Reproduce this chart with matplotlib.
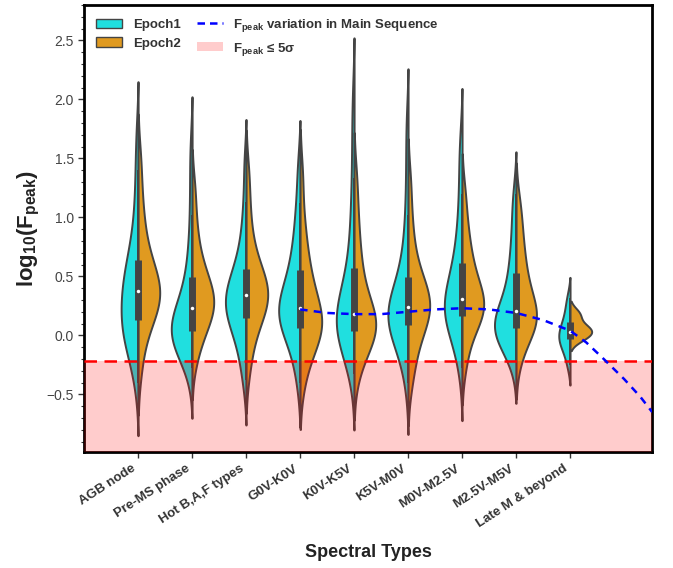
import matplotlib
matplotlib.use("Agg")
import matplotlib.pyplot as plt
from matplotlib.patches import Patch
from matplotlib.lines import Line2D
import numpy as np

categories = ["AGB node", "Pre-MS phase", "Hot B,A,F types", "G0V-K0V", "K0V-K5V",
              "K5V-M0V", "M0V-M2.5V", "M2.5V-M5V", "Late M & beyond"]

# log10(Fpeak) samples per spectral type
epoch1 = [
    [-0.4, -0.22, -0.12, -0.06, -0.02, 0.02, 0.05, 0.09, 0.13, 0.18, 0.23, 0.28, 0.33, 0.38, 0.42, 0.46, 0.51, 0.56, 0.62, 0.7, 0.8, 0.95, 1.15, 1.4, 1.7],
    [-0.28, -0.16, -0.1, -0.07, -0.05, -0.03, -0.01, 0.01, 0.03, 0.05, 0.07, 0.09, 0.12, 0.15, 0.19, 0.24, 0.3, 0.38, 0.48, 0.6, 0.76, 1.0, 1.3, 1.6],
    [-0.38, -0.22, -0.1, 0.0, 0.06, 0.11, 0.15, 0.19, 0.22, 0.25, 0.28, 0.31, 0.34, 0.37, 0.41, 0.45, 0.5, 0.56, 0.64, 0.75, 0.9, 1.12, 1.45],
    [-0.38, -0.18, -0.06, 0.02, 0.07, 0.11, 0.14, 0.17, 0.2, 0.23, 0.26, 0.3, 0.35, 0.41, 0.48, 0.56, 0.66, 0.78, 0.93, 1.12, 1.42],
    [-0.28, -0.15, -0.08, -0.03, 0.01, 0.04, 0.07, 0.09, 0.11, 0.13, 0.15, 0.18, 0.21, 0.25, 0.3, 0.37, 0.46, 0.57, 0.7, 0.86, 1.06, 1.32, 1.65, 2.0],
    [-0.38, -0.2, -0.09, -0.02, 0.03, 0.07, 0.1, 0.12, 0.14, 0.16, 0.18, 0.2, 0.22, 0.25, 0.29, 0.34, 0.4, 0.48, 0.58, 0.7, 0.88, 1.12, 1.45, 1.8],
    [-0.28, -0.1, 0.0, 0.07, 0.12, 0.16, 0.19, 0.21, 0.23, 0.26, 0.29, 0.33, 0.38, 0.44, 0.51, 0.59, 0.68, 0.8, 0.95, 1.15, 1.4, 1.65],
    [-0.22, -0.1, -0.05, -0.01, 0.02, 0.04, 0.06, 0.08, 0.1, 0.13, 0.17, 0.22, 0.28, 0.35, 0.44, 0.54, 0.66, 0.81, 1.0, 1.2],
    [-0.25, -0.14, -0.09, -0.05, -0.02, 0.01, 0.04, 0.08, 0.14, 0.22, 0.32],
]
epoch2 = [
    [-0.3, -0.1, 0.02, 0.1, 0.15, 0.2, 0.24, 0.27, 0.3, 0.33, 0.36, 0.39, 0.42, 0.45, 0.49, 0.53, 0.58, 0.64, 0.7, 0.8, 0.92, 1.05, 1.25, 1.5],
    [-0.22, -0.08, 0.0, 0.06, 0.11, 0.15, 0.19, 0.22, 0.25, 0.28, 0.31, 0.34, 0.37, 0.41, 0.45, 0.5, 0.56, 0.63, 0.72, 0.85, 1.02, 1.25],
    [-0.3, -0.12, 0.0, 0.08, 0.14, 0.19, 0.23, 0.27, 0.3, 0.33, 0.36, 0.39, 0.42, 0.45, 0.49, 0.54, 0.6, 0.68, 0.78, 0.93, 1.13, 1.38],
    [-0.4, -0.22, -0.12, -0.05, 0.0, 0.03, 0.06, 0.09, 0.12, 0.16, 0.2, 0.25, 0.31, 0.38, 0.46, 0.55, 0.66, 0.8, 1.0, 1.35],
    [-0.33, -0.18, -0.1, -0.05, -0.01, 0.02, 0.05, 0.08, 0.1, 0.12, 0.15, 0.19, 0.24, 0.3, 0.38, 0.47, 0.58, 0.7, 0.86, 1.06, 1.33],
    [-0.4, -0.25, -0.13, -0.04, 0.03, 0.08, 0.13, 0.17, 0.2, 0.23, 0.26, 0.29, 0.32, 0.35, 0.39, 0.44, 0.5, 0.58, 0.68, 0.83, 1.02, 1.3],
    [-0.25, -0.07, 0.04, 0.11, 0.16, 0.19, 0.22, 0.25, 0.28, 0.31, 0.35, 0.4, 0.46, 0.53, 0.61, 0.7, 0.82, 0.97, 1.2],
    [-0.2, -0.05, 0.03, 0.07, 0.1, 0.13, 0.16, 0.19, 0.23, 0.28, 0.34, 0.41, 0.49, 0.58, 0.68, 0.8, 0.95, 1.12],
    [-0.02, 0.03, 0.07, 0.18],
]

# main sequence trend (x in category units)
ms_x = [3.0, 3.5, 4.0, 4.5, 5.0, 5.5, 6.0, 6.5, 7.0, 7.5, 8.0, 8.3, 8.6, 9.0, 9.3, 9.52]
ms_y = [0.22, 0.19, 0.18, 0.18, 0.20, 0.22, 0.23, 0.22, 0.19, 0.13, 0.04, -0.06, -0.19, -0.37, -0.52, -0.65]

threshold = -0.22

c1 = "#20dfdf"
c2 = "#e09a20"
edge = "#444444"


def kde(vals, cut=2, bw_adjust=0.85, npts=250):
    v = np.asarray(vals, float)
    bw = v.std(ddof=1) * len(v) ** (-1 / 5) * bw_adjust
    y = np.linspace(v.min() - cut * bw, v.max() + cut * bw, npts)
    d = np.exp(-0.5 * ((y[:, None] - v[None, :]) / bw) ** 2).sum(1)
    d /= len(v) * bw * np.sqrt(2 * np.pi)
    return y, d


plt.rcParams['font.family'] = ['Liberation Sans', 'DejaVu Sans']
plt.rcParams['mathtext.fontset'] = 'custom'
plt.rcParams['mathtext.rm'] = 'Liberation Sans'
plt.rcParams['mathtext.bf'] = 'Liberation Sans:bold'

fig = plt.figure(figsize=(6.73, 5.68), dpi=100)
ax = fig.add_axes([0.125, 0.204, 0.844, 0.787])

half = 0.4
for i, (v1, v2) in enumerate(zip(epoch1, epoch2)):
    y1, d1 = kde(v1)
    y2, d2 = kde(v2)
    scale = half / max(d1.max(), d2.max())
    ax.fill_betweenx(y1, i - d1 * scale, i, facecolor=c1, edgecolor=edge, lw=1.4, zorder=2)
    ax.fill_betweenx(y2, i, i + d2 * scale, facecolor=c2, edgecolor=edge, lw=1.4, zorder=2)
    allv = np.concatenate([v1, v2])
    q1, med, q3 = np.percentile(allv, [25, 50, 75])
    iqr = q3 - q1
    lo = allv[allv >= q1 - 1.5 * iqr].min()
    hi = allv[allv <= q3 + 1.5 * iqr].max()
    ax.plot([i, i], [lo, hi], color=edge, lw=1.4, solid_capstyle="butt", zorder=3)
    ax.plot([i, i], [q1, q3], color=edge, lw=5, solid_capstyle="butt", zorder=3)
    ax.plot([i], [med], "o", color="white", ms=2.5, mew=0, zorder=4)

ax.axhspan(-2, threshold, color="red", alpha=0.2, lw=0, zorder=5)
ax.axhline(threshold, color="red", ls=(0, (5, 3)), lw=1.8, zorder=6)
ax.plot(ms_x, ms_y, color="blue", ls=(0, (3, 2.5)), lw=1.8, zorder=7)

ax.set_xticks(range(len(categories)))
ax.set_xticklabels(categories)
ax.set_xlim(-1, 9.52)
ax.set_ylim(-0.99, 2.8)
ax.yaxis.set_major_locator(matplotlib.ticker.MultipleLocator(0.5))
ax.yaxis.set_minor_locator(matplotlib.ticker.MultipleLocator(0.1))
ax.tick_params(axis="both", which="major", length=4, width=1, color="#333333")
ax.tick_params(axis="y", which="minor", length=2.5, width=0.8, color="#333333")
ax.tick_params(axis="y", labelsize=10, labelcolor="#444444")
ax.tick_params(axis="x", labelsize=9.5, labelcolor="#333333")
plt.setp(ax.get_xticklabels(), rotation=33, ha="right", fontweight="bold")
for s in ax.spines.values():
    s.set_linewidth(2)
    s.set_color("black")

ax.set_xlabel("Spectral Types", fontsize=13, fontweight="bold", color="#222222", labelpad=10)
ax.set_ylabel(r"$\mathbf{log_{10}(F_{peak})}$", fontsize=16, color="#222222", labelpad=3)

handles = [Patch(facecolor=c1, edgecolor=edge, lw=1),
           Patch(facecolor=c2, edgecolor=edge, lw=1),
           Line2D([], [], color="blue", ls=(0, (3, 2)), lw=1.8),
           Patch(facecolor="red", alpha=0.2, lw=0)]
labels = ["Epoch1", "Epoch2",
          r"$\mathbf{F_{peak}}$ variation in Main Sequence",
          r"$\mathbf{F_{peak}}$ ≤ 5σ"]
leg = ax.legend(handles, labels, loc="upper left", ncol=2, frameon=False,
                prop={"weight": "bold", "size": 9.5}, bbox_to_anchor=(0.0, 1.0),
                columnspacing=1.2, handlelength=2.0, labelcolor="#333333")

fig.savefig("out.png", dpi=100)
